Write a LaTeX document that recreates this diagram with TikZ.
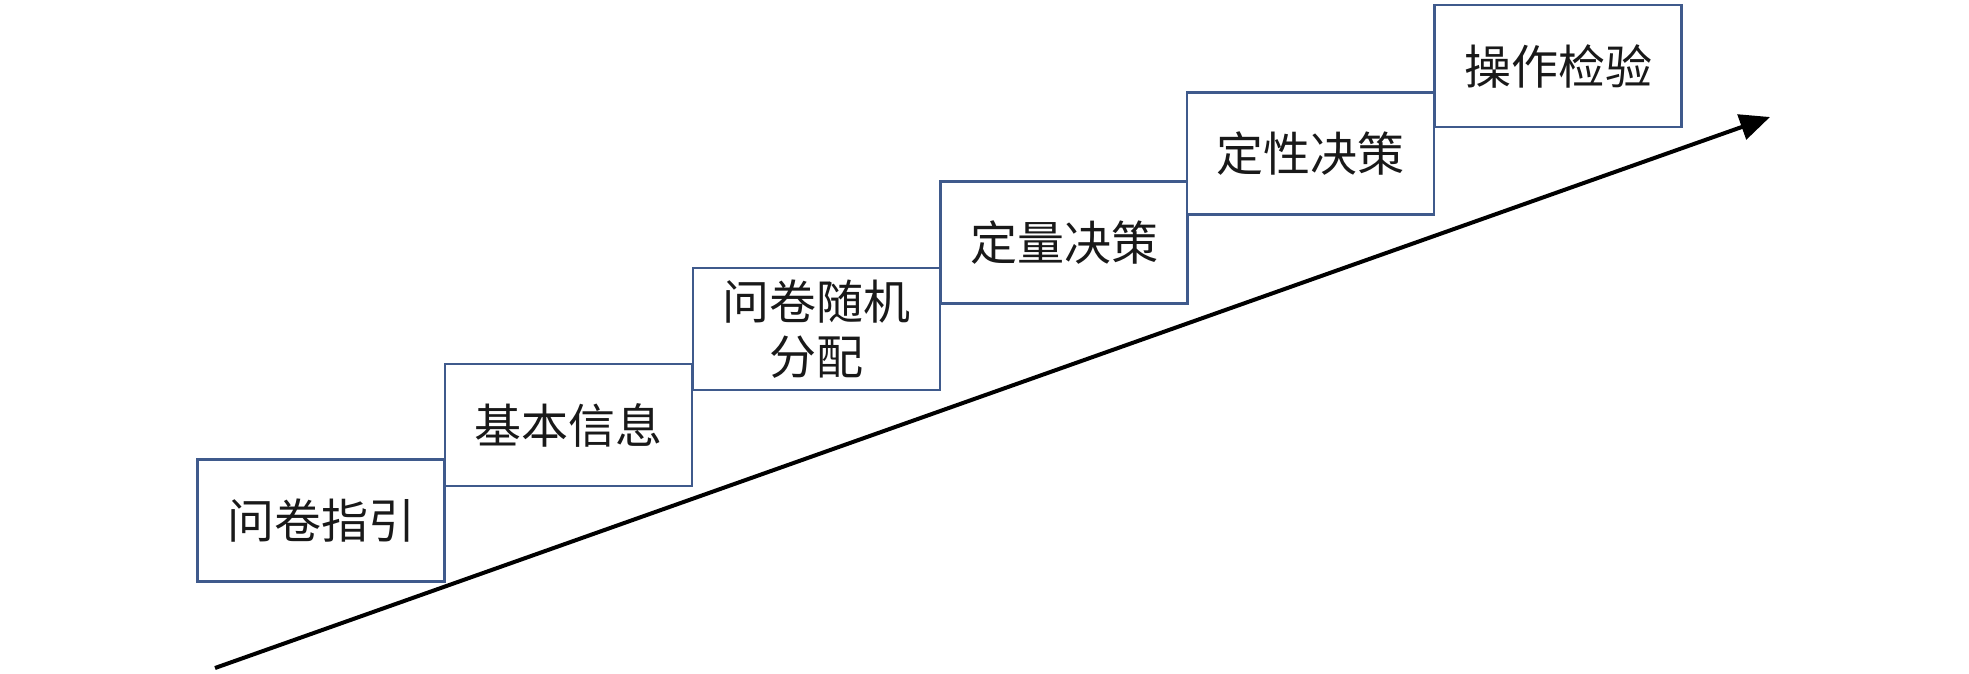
\documentclass[tikz,border=0pt]{standalone}
\usepackage{fontspec}
\newfontfamily\cjk{Noto Sans CJK SC}
\usetikzlibrary{arrows.meta}
\definecolor{boxline}{HTML}{3F5A8C}
\begin{document}
\begin{tikzpicture}[x=1pt,y=-1pt,
  stepbox/.style={draw=boxline,line width=2.6pt,fill=white,minimum width=247pt,minimum height=122pt,inner sep=0pt,align=center,font=\cjk\fontsize{47}{55}\selectfont,text=black!90}]
\useasboundingbox (0,0) rectangle (1969,673);
\coordinate (s) at (215,668);
\coordinate (e) at (1770,117);
\draw[line width=4pt,-{Triangle[length=30pt,width=26pt]}] (s) -- (e);
\node[stepbox] (b1) at (321,520.5) {问卷指引};
\node[stepbox] (b2) at (568.5,425) {基本信息};
\node[stepbox] (b3) at (816.5,329) {问卷随机\\分配};
\node[stepbox] (b4) at (1064,242.5) {定量决策};
\node[stepbox] (b5) at (1310.5,153.5) {定性决策};
\node[stepbox] (b6) at (1558,66) {操作检验};
\end{tikzpicture}
\end{document}
